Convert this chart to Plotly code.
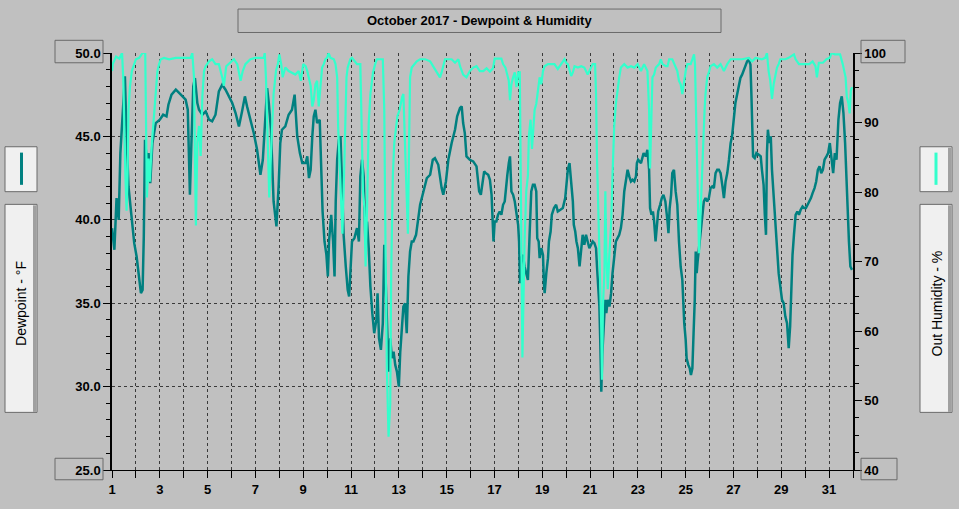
import plotly.graph_objects as go

# Dewpoint (deg F): day of month (fractional) and value
dew_day = [
    1.00, 1.10, 1.19, 1.28, 1.35, 1.44, 1.54, 1.61, 1.69, 1.81, 1.93, 2.03, 2.11, 2.21, 2.28,
    2.33, 2.38, 2.46, 2.53, 2.60, 2.69, 2.83, 3.00, 3.14, 3.28, 3.36, 3.49, 3.67, 3.88, 4.08,
    4.17, 4.22, 4.26, 4.32, 4.40, 4.47, 4.57, 4.64, 4.78, 4.92, 5.06, 5.19, 5.33, 5.47, 5.61,
    5.75, 5.89, 6.03, 6.17, 6.31, 6.44, 6.56, 6.65, 6.79, 6.93, 7.07, 7.21, 7.31, 7.42, 7.49,
    7.56, 7.65, 7.76, 7.88, 7.97, 8.04, 8.11, 8.25, 8.39, 8.53, 8.64,
    8.75, 8.86, 8.96, 9.10, 9.17, 9.24, 9.31, 9.38, 9.44, 9.51, 9.58, 9.69, 9.75, 9.81, 9.89,
    9.97, 10.03, 10.08, 10.17, 10.25, 10.31, 10.36, 10.42, 10.49, 10.56, 10.63, 10.69, 10.78,
    10.86, 10.92, 10.97, 11.04, 11.14, 11.25, 11.33, 11.39, 11.46, 11.53, 11.60, 11.67, 11.74,
    11.81, 11.89, 11.97, 12.06, 12.11, 12.17, 12.25, 12.33, 12.39, 12.44, 12.50, 12.57, 12.64,
    12.71, 12.78, 12.85, 12.92, 13.00, 13.06, 13.13, 13.19, 13.26, 13.33, 13.40, 13.47, 13.54,
    13.61, 13.72, 13.82, 13.89, 14.03, 14.17, 14.31, 14.42, 14.51, 14.65, 14.79, 14.86, 14.97,
    15.07, 15.21, 15.35, 15.44, 15.56, 15.63, 15.69, 15.76, 15.83, 15.97, 16.11, 16.25, 16.36,
    16.43, 16.49, 16.57, 16.63, 16.74, 16.81, 16.88, 16.92, 16.96, 17.01, 17.08, 17.15, 17.22,
    17.29, 17.36, 17.43, 17.50, 17.54, 17.60, 17.65, 17.71, 17.78, 17.85, 17.92, 17.99, 18.03,
    18.07, 18.13, 18.19, 18.26, 18.33, 18.40, 18.47, 18.54, 18.61, 18.68, 18.75, 18.79, 18.85,
    18.89, 18.96, 19.03, 19.07, 19.10, 19.17, 19.24, 19.28, 19.35, 19.40, 19.49, 19.58, 19.65,
    19.76, 19.86, 19.96, 20.01, 20.07, 20.14, 20.21, 20.28, 20.32, 20.38, 20.43, 20.49, 20.56,
    20.63, 20.69, 20.76, 20.83, 20.90, 20.97, 21.04, 21.11, 21.18, 21.25, 21.29, 21.35, 21.39,
    21.43, 21.47, 21.51, 21.57, 21.63, 21.68, 21.74, 21.81, 21.88, 21.94, 22.01, 22.08, 22.15,
    22.22, 22.29, 22.36, 22.43, 22.50, 22.57, 22.64, 22.71, 22.78, 22.85, 22.92, 22.96, 23.01,
    23.13, 23.24, 23.33, 23.40, 23.47, 23.51, 23.57, 23.63, 23.68, 23.74, 23.79, 23.85, 23.93,
    24.00, 24.07, 24.15, 24.24,
    24.28, 24.33, 24.39, 24.44, 24.51, 24.58, 24.65, 24.72, 24.79, 24.86, 24.90, 24.94, 25.00,
    25.04, 25.11, 25.17, 25.22, 25.28, 25.33, 25.38, 25.42, 25.46, 25.50, 25.56, 25.63, 25.69,
    25.76, 25.83, 25.90, 25.97, 26.04, 26.11, 26.18, 26.25, 26.32, 26.39, 26.46, 26.53, 26.60,
    26.67, 26.74, 26.81, 26.88, 26.94, 27.01, 27.08, 27.15, 27.22, 27.29, 27.36, 27.43, 27.50,
    27.57, 27.64, 27.71, 27.75, 27.78, 27.82, 27.89, 27.96, 28.06, 28.14, 28.19, 28.26, 28.31,
    28.36, 28.40, 28.44, 28.50, 28.56, 28.61, 28.68, 28.75, 28.82, 28.89, 28.96, 29.03, 29.10,
    29.17, 29.24, 29.31, 29.37, 29.41, 29.47, 29.53, 29.60, 29.67, 29.74, 29.81, 29.89, 29.96,
    30.03, 30.10, 30.17, 30.24, 30.31, 30.39, 30.46, 30.53, 30.60, 30.67, 30.74, 30.81, 30.89,
    30.96, 31.03, 31.10, 31.17, 31.24, 31.31, 31.39, 31.46, 31.53, 31.60, 31.67, 31.74, 31.79,
    31.83, 31.89, 31.96,
]
dew_val = [
    39.5, 38.2, 41.3, 40.0, 44.0, 46.0, 48.6, 45.0, 42.0, 40.3, 38.6, 37.8, 36.8, 35.6, 35.8,
    39.0, 44.8, 43.5, 44.0, 42.2, 44.6, 45.8, 46.0, 46.3, 46.2, 46.9, 47.5, 47.8, 47.5, 47.2,
    46.6, 44.0, 41.5, 44.5, 48.0, 48.5, 47.0, 46.6, 46.3, 46.5, 46.0, 45.9, 46.3, 47.7, 48.1,
    47.8, 47.4, 47.0, 46.4, 45.6, 46.5, 47.4, 46.8, 46.0, 45.2, 44.2, 42.7, 43.6, 46.6, 47.9,
    47.0, 45.4, 41.1, 39.6, 42.0, 44.6, 45.4, 45.6, 46.3, 46.6, 47.5,
    45.0, 44.0, 43.4, 43.4, 43.8, 42.5, 43.0, 45.0, 46.2, 46.6, 45.8, 46.0, 43.6, 40.5, 38.7,
    37.9, 36.6, 38.7, 40.3, 38.7, 36.6, 41.1, 43.6, 44.8, 45.0, 41.7, 39.1, 37.2,
    35.8, 35.4, 37.2, 38.7, 38.9, 39.5, 38.7, 42.6, 43.6, 42.6, 38.7, 39.9, 38.3,
    36.0, 34.4, 33.2, 34.0, 35.6, 32.9, 32.2, 33.8, 38.5, 36.8, 33.5, 30.9, 32.9,
    31.7, 32.1, 31.3, 30.9, 30.0, 32.1, 33.4, 34.8, 35.0, 33.2, 36.6, 38.1, 38.7,
    38.7, 39.1, 40.1, 40.9, 41.7, 42.5, 42.7, 43.6, 43.7, 43.3, 41.9, 41.5, 42.3,
    43.6, 44.6, 45.4, 46.2, 46.7, 46.8, 45.8, 45.2, 43.8, 43.6, 43.5, 43.2, 41.7,
    41.5, 42.1, 42.9, 42.8, 42.7, 42.4, 41.5, 40.1, 38.7, 39.9, 39.9, 40.3, 40.5,
    40.3, 40.9, 41.1, 42.3, 42.7, 43.4, 43.8, 41.7, 41.5, 41.1, 40.5, 39.7, 38.7,
    36.2, 37.7, 37.9, 37.2, 36.8, 36.4, 39.1, 41.7, 42.1, 42.1, 41.7, 38.9, 38.7,
    37.7, 38.3, 37.9, 36.2, 35.6, 36.8, 37.7, 38.7, 39.3, 40.3, 40.7, 40.9, 40.5,
    40.6, 40.7, 41.3, 42.3, 43.0, 43.4, 42.4, 41.1, 39.7, 39.3, 38.7, 38.3, 37.2,
    38.3, 39.1, 38.5, 39.1, 38.7, 38.3, 38.5, 38.7, 38.6, 38.3, 37.2, 36.0, 34.8,
    32.5, 29.7, 31.9, 33.8, 35.2, 34.4, 35.2, 34.8, 35.6, 36.8, 38.0, 38.7, 38.9,
    39.1, 39.5, 40.3, 41.7, 42.3, 43.0, 42.6, 42.3, 42.4, 42.3, 42.6, 43.4, 43.6,
    43.4, 44.0, 43.8, 44.2, 43.0, 40.7, 40.3, 40.5, 39.9, 38.7, 39.5, 40.5, 40.9,
    41.3, 41.5, 41.1, 39.9,
    39.2, 40.7, 41.5, 42.8, 43.0, 41.7, 40.9, 38.7, 37.2, 36.4, 34.8, 33.8, 32.8,
    31.7, 31.3, 31.1, 30.7, 31.1, 33.2, 35.2, 38.1, 36.8, 37.5, 38.3, 39.5, 39.9,
    41.1, 41.3, 41.1, 41.3, 41.9, 42.0, 41.9, 42.8, 43.0, 43.0, 42.8, 42.1, 41.3,
    42.3, 42.8, 43.6, 44.6, 45.0, 46.2, 47.0, 47.5, 48.1, 48.5, 48.7, 49.0, 49.3,
    49.5, 49.6, 49.3, 47.5, 45.6, 43.8, 43.7, 44.0, 43.9, 43.8, 43.0, 42.1, 40.3,
    39.1, 44.0, 45.4, 44.6, 45.0, 43.0, 41.3, 40.3, 38.3, 36.8, 36.0, 35.2, 35.0,
    34.2, 33.8, 32.3, 33.6, 35.4, 37.9, 39.1, 40.3, 40.5, 40.3, 40.6, 40.8, 40.7,
    40.7, 40.9, 41.1, 41.3, 41.6, 41.9, 42.3, 43.0, 43.2, 42.8, 43.0, 43.6, 43.8,
    44.0, 44.6, 43.6, 42.8, 44.0, 43.6, 46.0, 47.0, 47.4, 46.4, 44.6, 41.5, 39.5,
    38.7, 37.2, 37.0,
]

# Outside humidity (%)
hum_day = [
    1.00, 1.03, 1.17, 1.31, 1.42, 1.47, 1.56, 1.61, 1.65, 1.69, 1.75, 1.83, 1.93, 2.00, 2.14,
    2.28, 2.39, 2.42, 2.46, 2.53, 2.58, 2.67, 2.72, 2.81, 2.90, 2.97, 3.04, 3.18, 3.39, 3.67,
    3.94, 4.29, 4.36, 4.43, 4.47, 4.51, 4.57, 4.64, 4.71, 4.78, 4.85, 4.92, 5.06, 5.19, 5.33,
    5.47, 5.61, 5.68, 5.78, 5.89, 6.10, 6.24, 6.38, 6.47, 6.58, 6.79, 7.00, 7.35, 7.39, 7.44,
    7.53, 7.58, 7.67, 7.76, 7.86, 7.94, 8.00, 8.08, 8.14, 8.25, 8.39, 8.53, 8.67, 8.81, 8.90,
    9.00, 9.10, 9.17, 9.24, 9.31, 9.38, 9.44, 9.51, 9.58, 9.65, 9.72, 9.79, 9.86, 9.93, 10.00,
    10.06, 10.14, 10.28, 10.35, 10.42, 10.46, 10.53, 10.58, 10.64, 10.69, 10.76, 10.81, 10.86,
    10.92, 10.97, 11.04, 11.25, 11.39, 11.44, 11.50, 11.56, 11.61, 11.67, 11.74, 11.81, 11.92,
    12.01, 12.08, 12.33, 12.39, 12.44, 12.50, 12.57, 12.64, 12.68, 12.75, 12.81, 12.89, 12.94,
    13.03, 13.08, 13.14, 13.19, 13.26, 13.33, 13.38, 13.42, 13.47, 13.54, 13.64, 13.75, 13.89,
    14.10, 14.31, 14.44, 14.58, 14.72, 14.79, 14.93, 15.07, 15.21, 15.35, 15.49, 15.56, 15.69,
    15.83, 15.97, 16.11, 16.25, 16.39, 16.53,
    16.67, 16.81, 16.94, 17.01, 17.29, 17.36, 17.46, 17.54, 17.60, 17.65, 17.71, 17.78, 17.85,
    17.92, 17.99, 18.06, 18.08, 18.13, 18.17, 18.21, 18.26, 18.33, 18.40, 18.44, 18.51, 18.57,
    18.63, 18.68, 18.75, 18.82, 18.89, 18.96, 19.03, 19.10, 19.24, 19.51, 19.65, 19.79, 19.93,
    20.00, 20.07, 20.21, 20.28, 20.35, 20.49, 20.63, 20.76, 20.90, 21.04, 21.11, 21.21, 21.25,
    21.29, 21.35, 21.40, 21.46, 21.50, 21.54, 21.60, 21.64, 21.68, 21.74, 21.81, 21.88, 21.94,
    22.01, 22.08, 22.15, 22.22, 22.29, 22.43, 22.57, 22.71, 22.85, 22.99, 23.13, 23.26, 23.40,
    23.47, 23.51, 23.57, 23.61, 23.68, 23.75, 23.89, 23.96, 24.03, 24.17, 24.24,
    24.31, 24.44, 24.51, 24.58, 24.65, 24.72, 24.79, 24.86, 24.93, 25.00, 25.07, 25.21, 25.28,
    25.35, 25.39, 25.43, 25.47, 25.51, 25.56, 25.60, 25.65, 25.69, 25.74, 25.79, 25.83, 25.90,
    25.97, 26.04, 26.18, 26.32, 26.46, 26.60, 26.74, 26.88, 27.36, 27.64, 27.78, 27.92, 28.19,
    28.33, 28.40, 28.47, 28.54, 28.61, 28.68, 28.75, 28.82, 28.89, 28.96, 29.17, 29.31, 29.53,
    29.60, 29.74, 29.96, 30.17, 30.31, 30.43, 30.49, 30.57, 30.74, 30.89, 31.03, 31.10, 31.24,
    31.46, 31.57, 31.63, 31.69, 31.74, 31.81, 31.86, 31.91, 31.96,
]
hum_val = [
    97.4, 98.4, 99.5, 99.2, 100.0, 96.5, 82.4, 77.3, 82.4, 91.8, 95.1, 97.4, 98.4, 99.1, 99.3,
    100.0, 100.0, 87.1, 79.2, 84.8, 81.5, 87.1, 89.5, 94.1, 97.4, 98.4, 99.1, 99.3, 99.1, 99.3,
    99.3, 99.3, 100.0, 96.5, 84.8, 75.2, 87.1, 89.5, 85.2, 93.7, 97.4, 98.1, 98.8, 99.1, 98.4,
    98.4, 96.5, 95.3, 98.1, 98.4, 99.1, 98.4, 96.0, 97.4, 98.4, 99.1, 99.3, 99.3, 100.0, 96.5,
    87.1, 79.2, 87.1, 94.1, 97.4, 98.4, 99.8, 98.4, 96.5, 97.9, 97.4, 97.2, 96.9, 97.4, 96.0,
    98.4, 98.1, 97.4, 96.5, 95.3, 92.3, 93.2, 95.5, 96.0, 92.3, 95.5, 97.9, 98.4, 99.1, 99.3,
    100.0, 99.3, 99.1, 98.4, 96.5, 89.5, 82.4, 77.7, 74.0, 80.1, 91.8, 96.5, 97.9,
    98.4, 99.1, 99.3, 98.4, 98.4, 87.1, 80.1, 77.7, 69.3, 77.7, 89.9, 94.1, 97.2,
    98.4, 99.1, 99.1, 91.8, 73.0, 54.3, 44.8, 49.5, 68.4, 82.4, 87.1, 89.5, 90.9,
    91.8, 92.7, 93.7, 94.1, 87.1, 78.7, 74.0, 84.8, 96.5, 97.9, 98.4, 98.8, 99.1,
    99.1, 98.8, 98.1, 97.2, 96.5, 97.2, 99.1, 99.1, 99.1, 98.6, 99.1, 98.1, 96.9,
    96.5, 97.4, 97.9, 98.1, 97.4, 97.4,
    97.8, 97.3, 97.8, 99.2, 99.2, 98.4, 97.9, 96.5, 96.0, 93.2, 95.5, 96.5, 97.2,
    95.1, 97.2, 97.2, 87.1, 68.4, 56.2, 63.7, 73.0, 80.1, 82.4, 88.1, 90.4, 86.2,
    90.4, 91.8, 92.7, 94.6, 96.5, 95.5, 97.4, 98.1, 98.4, 98.4, 97.7, 98.4, 99.1,
    98.6, 98.4, 96.7, 97.2, 98.1, 97.9, 98.1, 97.9, 96.9, 97.9, 98.4, 98.4, 94.1,
    84.8, 77.7, 68.4, 61.8, 53.0, 63.7, 68.4, 80.1, 71.2, 66.0, 71.2, 75.4, 82.4,
    89.5, 92.7, 95.1, 96.5, 97.9, 98.4, 97.9, 98.1, 97.9, 98.4, 97.4, 98.4, 97.4,
    91.8, 83.4, 91.8, 96.5, 96.9, 97.9, 98.4, 99.1, 98.4, 98.1, 98.1,
    99.1, 99.1, 98.6, 98.1, 97.4, 96.0, 95.5, 94.1, 96.0, 97.4, 98.4, 98.4, 99.1,
    99.8, 98.4, 91.8, 82.4, 75.4, 71.2, 74.9, 80.1, 84.3, 89.0, 91.8, 94.1, 96.5,
    97.2, 98.1, 98.4, 97.9, 98.4, 97.4, 98.4, 99.1, 99.1, 99.3, 98.8, 99.3, 99.1,
    99.3, 100.0, 97.4, 96.0, 93.4, 95.5, 96.9, 97.9, 98.4, 99.1, 99.1, 99.3, 99.8,
    99.1, 98.4, 98.4, 98.4, 98.8, 98.1, 96.5, 98.6, 98.6, 99.1, 99.3, 100.0, 99.8,
    99.8, 98.4, 97.4, 96.5, 93.7, 92.7, 91.3, 94.6, 95.1,
]

TITLE = "October 2017 - Dewpoint & Humidity"
DEW_LABEL = "Dewpoint - °F"
HUM_LABEL = "Out Humidity - %"

W, H = 959, 509
L, R, T, B = 112, 853, 53, 480  # plot area in pixels

BG = "#c0c0c0"
TEAL = "#008080"
AQUA = "#33ffcc"
FONT = "Liberation Sans, Arial, sans-serif"


def px(x):
    return (x - L) / (R - L)


def py(y):
    return (B - y) / (B - T)


def box(x0, y0, x1, y1, fill="rgba(0,0,0,0)", line="#6a6a6a"):
    return dict(
        type="rect", xref="paper", yref="paper",
        x0=px(x0), x1=px(x1), y0=py(y1), y1=py(y0),
        fillcolor=fill, line=dict(color=line, width=1), layer="above",
    )


def strip(x0, y0, x1, y1, color):
    return dict(
        type="rect", xref="paper", yref="paper",
        x0=px(x0), x1=px(x1), y0=py(y1), y1=py(y0),
        fillcolor=color, line=dict(width=0), layer="above",
    )


def vline(x, y0, y1, color):
    return dict(
        type="line", xref="paper", yref="paper",
        x0=px(x), x1=px(x), y0=py(y1), y1=py(y0),
        line=dict(color=color, width=3), layer="above",
    )


def label(text, x, y, size, bold=False, angle=0):
    font = dict(family=FONT, size=size, color="black")
    if bold:
        font["weight"] = "bold"
    return dict(
        text=text, x=px(x), y=py(y), xref="paper", yref="paper",
        xanchor="center", yanchor="middle", showarrow=False,
        textangle=angle, font=font,
    )


fig = go.Figure()
fig.add_trace(go.Scatter(
    x=dew_day, y=dew_val, mode="lines", name=DEW_LABEL,
    line=dict(color=TEAL, width=2.5), yaxis="y",
))
fig.add_trace(go.Scatter(
    x=hum_day, y=hum_val, mode="lines", name=HUM_LABEL,
    line=dict(color=AQUA, width=2.2), yaxis="y2",
))

GRID = "#3a3a3a"
DASH = "3px,3px"

shapes = [
    box(238, 8, 721, 32),
    box(55, 40, 103, 63),
    box(55, 468, 103, 490),
    box(861, 40, 905, 63),
    box(861, 468, 897, 490),
    box(5, 149, 37, 195, fill="#f0f0f0"),
    box(5, 208, 37, 421, fill="#f0f0f0"),
    strip(33, 209, 36.5, 420.5, "#a0a0a0"),
    box(920, 149, 952, 195, fill="#f0f0f0"),
    strip(948, 150, 951.5, 194.5, "#a0a0a0"),
    box(920, 208, 952, 421, fill="#f0f0f0"),
    strip(948, 209, 951.5, 420.5, "#a0a0a0"),
    vline(21.5, 155, 188, TEAL),
    vline(936, 155, 188, AQUA),
]

annotations = [
    label(TITLE, 479.5, 20, 13, bold=True),
    label(DEW_LABEL, 21, 310, 14, angle=-90),
    label(HUM_LABEL, 936.5, 310, 14, angle=-90),
]

tickfont = dict(family=FONT, size=13, color="black", weight="bold")

fig.update_layout(
    width=W, height=H,
    margin=dict(l=L, r=W - R, t=T, b=H - B, pad=0),
    paper_bgcolor=BG, plot_bgcolor=BG,
    showlegend=False,
    shapes=shapes,
    annotations=annotations,
    xaxis=dict(
        range=[1, 32], tickmode="linear", tick0=1, dtick=2,
        ticks="outside", ticklen=7, tickcolor="black", tickwidth=1,
        showgrid=True, gridcolor=GRID, griddash=DASH, gridwidth=1,
        minor=dict(dtick=1, tick0=1, ticks="outside", ticklen=7, tickcolor="black",
                   showgrid=True, gridcolor=GRID, griddash=DASH, gridwidth=1),
        showline=True, linecolor="black", linewidth=1,
        zeroline=False, tickfont=tickfont,
    ),
    yaxis=dict(
        range=[25, 50], tickmode="linear", tick0=25, dtick=5, tickformat=".1f",
        ticks="outside", ticklen=7, tickcolor="black", tickwidth=1,
        showgrid=True, gridcolor=GRID, griddash=DASH, gridwidth=1,
        minor=dict(dtick=1, tick0=25, ticks="outside", ticklen=4, tickcolor="black",
                   showgrid=False),
        showline=True, linecolor="black", linewidth=1.5,
        zeroline=False, tickfont=tickfont,
    ),
    yaxis2=dict(
        range=[40, 100], overlaying="y", side="right", anchor="x",
        tickmode="linear", tick0=40, dtick=10,
        ticks="outside", ticklen=7, tickcolor="black", tickwidth=1,
        showgrid=False,
        minor=dict(dtick=2.5, tick0=40, ticks="outside", ticklen=4, tickcolor="black",
                   showgrid=False),
        showline=True, linecolor="black", linewidth=1.5,
        zeroline=False, tickfont=tickfont,
    ),
)

# the page should start at the top-left corner, like the original image
fig.write_html(
    "out.html",
    config={"displayModeBar": False},
    post_script="document.body.style.margin = '0';",
)
